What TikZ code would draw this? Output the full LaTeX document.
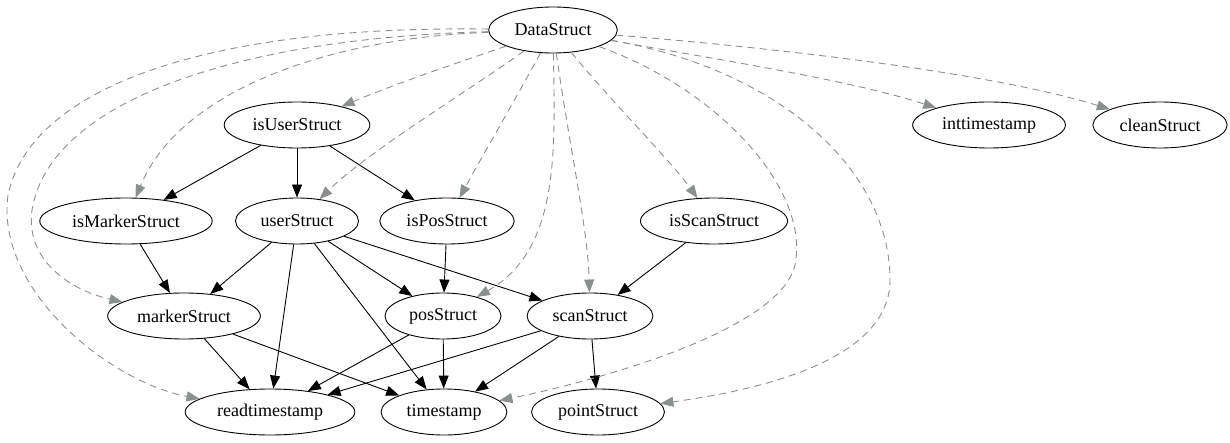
\documentclass[tikz,border=0pt]{standalone}
\usepackage{fontspec}
\setmainfont{Liberation Serif}
\usetikzlibrary{arrows.meta,shapes.geometric}
\definecolor{depgray}{RGB}{137,145,143}

\begin{document}
\begin{tikzpicture}[x=1pt,y=-1pt,
  obj/.style={draw,ellipse,line width=0.9pt,inner xsep=7pt,minimum height=46pt,
    font=\fontsize{18}{20}\selectfont},
  uses/.style={line width=0.9pt,-{Triangle[length=13pt,width=10pt]}},
  dep/.style={line width=0.9pt,depgray,dash pattern=on 7pt off 5pt,
    -{Triangle[length=13pt,width=10pt,fill=depgray]}}]
\useasboundingbox (0,0) rectangle (1230,443);

% structs
\node[obj] (ds)  at (553,30)  {DataStruct};
\node[obj] (ius) at (297,125) {isUserStruct};
\node[obj] (its) at (989,125) {inttimestamp};
\node[obj] (cs)  at (1160,125) {cleanStruct};
\node[obj] (ims) at (126,221) {isMarkerStruct};
\node[obj] (us)  at (297,221) {userStruct};
\node[obj] (ips) at (447,221) {isPosStruct};
\node[obj] (iss) at (714,221) {isScanStruct};
\node[obj] (ms)  at (184,316) {markerStruct};
\node[obj] (ps)  at (443,316) {posStruct};
\node[obj] (ss)  at (590,316) {scanStruct};
\node[obj] (rt)  at (270,412) {readtimestamp};
\node[obj] (ts)  at (444,412) {timestamp};
\node[obj] (pts) at (598,412) {pointStruct};

% solid dependencies
\foreach \a/\b in {ius/ims,ius/us,ius/ips,ims/ms,us/ms,us/rt,us/ts,us/ps,us/ss,
  ips/ps,iss/ss,ms/rt,ms/ts,ps/rt,ps/ts,ss/rt,ss/ts,ss/pts}{
  \draw[uses] (\a) -- (\b);
}

% dashed dependencies from DataStruct
\draw[dep] (ds) .. controls (460,62) and (400,82) .. (ius);
\draw[dep] (ds) .. controls (330,38) and (180,90) .. (ims);
\draw[dep] (ds) .. controls (470,90) and (370,150) .. (us);
\draw[dep] (ds) .. controls (515,100) and (480,160) .. (ips);
\draw[dep] (ds) .. controls (240,38) and (50,100) .. (32,210) .. controls (25,260) and (70,290) .. (ms);
\draw[dep] (ds) .. controls (200,25) and (30,90) .. (8,195) .. controls (-5,290) and (110,382) .. (rt);
\draw[dep] (ds) .. controls (555,150) and (560,250) .. (ps);
\draw[dep] (ds) .. controls (570,150) and (588,230) .. (ss);
\draw[dep] (ds) .. controls (610,100) and (670,160) .. (iss);
\draw[dep] (ds) .. controls (720,90) and (810,190) .. (795,265) .. controls (780,330) and (600,380) .. (ts);
\draw[dep] (ds) .. controls (780,70) and (890,170) .. (890,280) .. controls (890,360) and (760,390) .. (pts);
\draw[dep] (ds) .. controls (720,60) and (850,80) .. (its);
\draw[dep] (ds) .. controls (800,50) and (1000,75) .. (cs);

\end{tikzpicture}
\end{document}
